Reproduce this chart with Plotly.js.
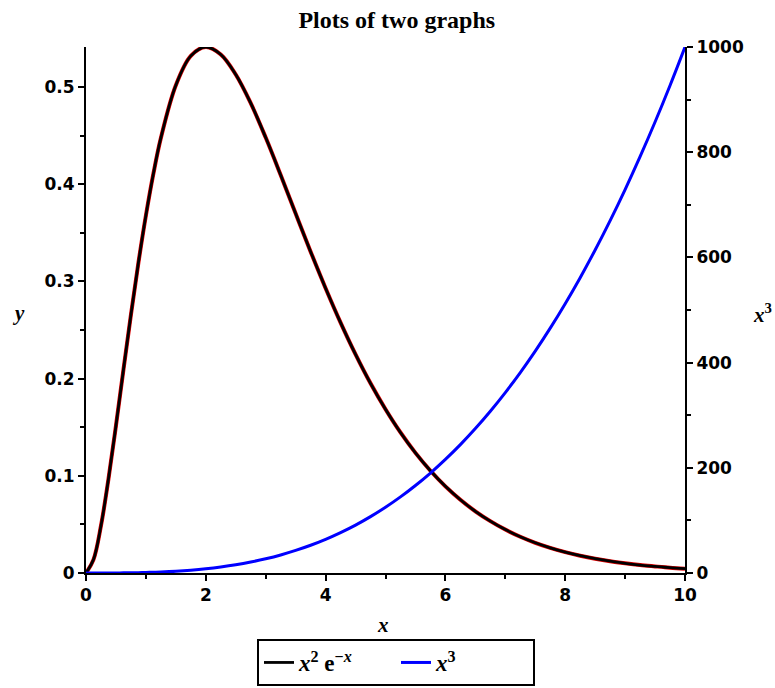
<!DOCTYPE html>
<html>
<head>
<meta charset="utf-8">
<script src="https://cdn.plot.ly/plotly-3.0.1.min.js"></script>
<style>html,body{margin:0;padding:0;background:#fff;}#chart{width:775px;height:688px;}</style>
</head>
<body>
<div id="chart"></div>
<script>
// x sample positions
const xValues = [0,0.125,0.25,0.375,0.5,0.625,0.75,0.875,1,1.125,1.25,1.5,1.75,2,2.25,2.5,2.75,3,3.25,3.5,3.75,4,4.25,4.5,4.75,5,5.25,5.5,5.75,6,6.25,6.5,6.75,7,7.25,7.5,7.75,8,8.25,8.5,8.75,9,9.25,9.5,9.75,10];
// x^2 e^-x (left axis)
const curveA = [0,0.0138,0.0487,0.0967,0.1516,0.2091,0.2657,0.3192,0.3679,0.4109,0.4477,0.5020,0.5322,0.5413,0.5336,0.5130,0.4835,0.4481,0.4096,0.3699,0.3307,0.2931,0.2577,0.2250,0.1952,0.1685,0.1446,0.1236,0.1052,0.0892,0.0754,0.0635,0.0534,0.0447,0.0373,0.0311,0.0259,0.0215,0.0178,0.0147,0.0121,0.0100,0.0082,0.0068,0.0055,0.0045];
// x^3 (right axis)
const curveB = [0,0.002,0.016,0.053,0.125,0.244,0.42,0.67,1,1.42,1.95,3.38,5.36,8,11.4,15.6,20.8,27,34.3,42.9,52.7,64,76.8,91.1,107.2,125,144.7,166.4,190.1,216,244.1,274.6,307.5,343,381.1,421.9,465.5,512,561.5,614.1,669.9,729,791.5,857.4,926.9,1000];
const nameA = '<i>x</i><sup>2</sup> e<sup>−<i>x</i></sup>';
const nameB = '<i>x</i><sup>3</sup>';

const tickFont = {family: 'DejaVu Sans', size: 17, color: '#000', weight: 'bold'};
const legendFont = {family: 'Liberation Serif', size: 23, color: '#000', weight: 'bold'};

const traces = [
  {x: xValues, y: curveA, type: 'scatter', mode: 'lines', line: {color: '#e00000', width: 4, shape: 'spline'}, showlegend: false, hoverinfo: 'skip', yaxis: 'y'},
  {x: xValues, y: curveA, type: 'scatter', mode: 'lines', name: nameA, line: {color: '#000000', width: 2.8, shape: 'spline'}, yaxis: 'y'},
  {x: xValues, y: curveB, type: 'scatter', mode: 'lines', name: nameB, line: {color: '#0000ff', width: 3, shape: 'spline'}, yaxis: 'y2'}
];

const layout = {
  width: 775, height: 688,
  margin: {l: 86, r: 90, t: 47, b: 115},
  paper_bgcolor: '#fff', plot_bgcolor: '#fff',
  showlegend: true,
  title: {text: '<b>Plots of two graphs</b>', font: {family: 'Liberation Serif', size: 24, color: '#000'}, xref: 'container', x: 0.512, xanchor: 'center', yref: 'container', y: 0.972, yanchor: 'middle'},
  xaxis: {range: [0, 10], dtick: 2, tick0: 0, showgrid: false, zeroline: false, showline: true, linecolor: '#000', linewidth: 2,
    ticks: 'outside', ticklen: 6, tickwidth: 2, tickcolor: '#000', tickfont: tickFont,
    minor: {dtick: 1, ticks: 'outside', ticklen: 4, tickwidth: 2, tickcolor: '#000', showgrid: false}},
  yaxis: {range: [0, 0.5413], dtick: 0.1, tick0: 0, showgrid: false, zeroline: false, showline: true, linecolor: '#000', linewidth: 2,
    ticks: 'outside', ticklen: 6, tickwidth: 2, tickcolor: '#000', tickfont: tickFont,
    minor: {dtick: 0.05, ticks: 'outside', ticklen: 4, tickwidth: 2, tickcolor: '#000', showgrid: false}},
  yaxis2: {overlaying: 'y', side: 'right', range: [0, 1000], dtick: 200, tick0: 0, showgrid: false, zeroline: false, showline: true, linecolor: '#000', linewidth: 2,
    ticks: 'outside', ticklen: 6, tickwidth: 2, tickcolor: '#000', tickfont: tickFont,
    minor: {dtick: 100, ticks: 'outside', ticklen: 4, tickwidth: 2, tickcolor: '#000', showgrid: false}},
  legend: {orientation: 'h', xref: 'container', yref: 'container', x: 396 / 775, xanchor: 'center', y: 2 / 688, yanchor: 'bottom',
    bordercolor: '#000', borderwidth: 2, font: legendFont, bgcolor: '#fff', entrywidth: 92, entrywidthmode: 'pixels'},
  annotations: [
    {text: '<b><i>y</i></b>', xref: 'paper', yref: 'paper', x: (18 - 86) / 599, y: (573 - 313) / 526, showarrow: false, font: {family: 'Liberation Serif', size: 21, color: '#000'}, xanchor: 'center', yanchor: 'middle'},
    {text: '<b><i>x</i></b>', xref: 'paper', yref: 'paper', x: (383 - 86) / 599, y: (573 - 625) / 526, showarrow: false, font: {family: 'Liberation Serif', size: 21, color: '#000'}, xanchor: 'center', yanchor: 'middle'},
    {text: '<b><i>x</i><sup>3</sup></b>', xref: 'paper', yref: 'paper', x: (762 - 86) / 599, y: (573 - 313) / 526, showarrow: false, font: {family: 'Liberation Serif', size: 21, color: '#000'}, xanchor: 'center', yanchor: 'middle'}
  ]
};

Plotly.newPlot('chart', traces, layout, {displayModeBar: false, staticPlot: true});
</script>
</body>
</html>
